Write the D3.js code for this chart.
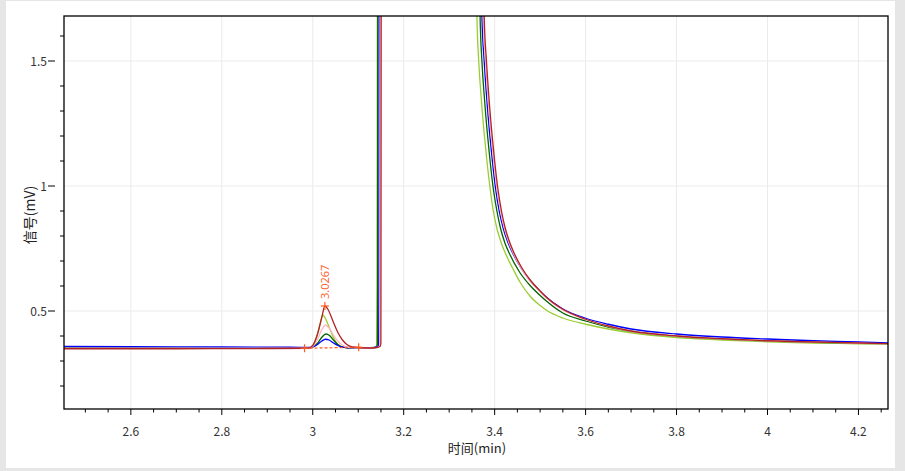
<!DOCTYPE html>
<html><head><meta charset="utf-8">
<script src="https://cdn.jsdelivr.net/npm/d3@7/dist/d3.min.js"></script>
<style>
html,body{margin:0;padding:0;background:#e6e6e6;}
svg{display:block;}
</style></head>
<body>
<svg id="c" width="905" height="471"></svg>
<script>
// ---- data (time in min, signal in mV) ----
const xDomain = [2.453, 4.265];
const yDomain = [0.108, 1.68];
const xMajorTicks = [2.6, 2.8, 3.0, 3.2, 3.4, 3.6, 3.8, 4.0, 4.2];
const xTickLabels = ["2.6", "2.8", "3", "3.2", "3.4", "3.6", "3.8", "4", "4.2"];
const xMinorTicks = [2.5,2.55,2.65,2.7,2.75,2.85,2.9,2.95,3.05,3.1,3.15,3.25,3.3,3.35,3.45,3.5,3.55,3.65,3.7,3.75,3.85,3.9,3.95,4.05,4.1,4.15,4.25];
const yMajorTicks = [0.5, 1.0, 1.5];
const yTickLabels = ["0.5", "1", "1.5"];
const yMinorTicks = [0.2,0.3,0.4,0.6,0.7,0.8,0.9,1.1,1.2,1.3,1.4,1.6];

const seriesYellowGreen = [[2.45,0.351],[2.7,0.351],[2.9,0.351],[2.99,0.351],[3.0,0.362],[3.01,0.405],[3.017,0.455],[3.022,0.484],[3.028,0.47],[3.035,0.44],[3.045,0.395],[3.055,0.367],[3.065,0.356],[3.08,0.352],[3.12,0.352],[3.133,0.353],[3.1395,0.358],[3.141,0.368],[3.1415,0.6],[3.142,1.8],[3.145,4],[3.25,12],[3.357,3],
  [3.361,1.68],[3.365,1.50],[3.371,1.34],[3.377,1.21],[3.383,1.10],[3.390,0.99],[3.397,0.90],[3.405,0.83],[3.415,0.77],[3.427,0.717],[3.44,0.67],[3.456,0.615],[3.479,0.557],[3.50,0.522],[3.515,0.502],[3.55,0.472],[3.6,0.447],[3.65,0.428],[3.7,0.413],[3.8,0.394],[3.9,0.384],[4.0,0.377],[4.1,0.372],[4.2,0.369],[4.27,0.367]];
const seriesDarkGreen = [[2.45,0.352],[2.7,0.352],[2.9,0.352],[2.99,0.352],[3.0,0.356],[3.01,0.37],[3.02,0.395],[3.029,0.408],[3.037,0.402],[3.045,0.385],[3.055,0.366],[3.065,0.356],[3.08,0.352],[3.12,0.352],[3.134,0.353],[3.1405,0.358],[3.142,0.368],[3.1425,0.6],[3.143,1.8],[3.146,4],[3.25,12],[3.364,3],
  [3.368,1.68],[3.372,1.50],[3.378,1.34],[3.384,1.21],[3.390,1.10],[3.397,0.99],[3.405,0.90],[3.413,0.83],[3.423,0.77],[3.433,0.728],[3.455,0.655],[3.479,0.600],[3.50,0.562],[3.515,0.538],[3.55,0.492],[3.6,0.460],[3.65,0.436],[3.7,0.419],[3.8,0.399],[3.9,0.388],[4.0,0.380],[4.1,0.375],[4.2,0.371],[4.27,0.369]];
const seriesBlue = [[2.45,0.358],[2.6,0.357],[2.8,0.356],[2.95,0.355],[2.995,0.354],[3.003,0.358],[3.012,0.368],[3.02,0.38],[3.028,0.387],[3.036,0.384],[3.045,0.373],[3.055,0.362],[3.068,0.355],[3.09,0.353],[3.12,0.353],[3.136,0.354],[3.1435,0.359],[3.145,0.37],[3.1455,0.6],[3.146,1.8],[3.149,4],[3.26,12],[3.368,3],
  [3.372,1.68],[3.377,1.50],[3.383,1.34],[3.389,1.21],[3.395,1.10],[3.402,0.99],[3.410,0.90],[3.419,0.83],[3.429,0.775],[3.438,0.738],[3.457,0.675],[3.476,0.626],[3.497,0.585],[3.512,0.558],[3.55,0.508],[3.6,0.471],[3.65,0.447],[3.7,0.428],[3.8,0.408],[3.9,0.396],[4.0,0.388],[4.1,0.381],[4.2,0.376],[4.27,0.372]];
const seriesPink = [[2.45,0.351],[2.7,0.351],[2.9,0.351],[2.99,0.351],[3.0,0.358],[3.01,0.385],[3.02,0.425],[3.028,0.444],[3.036,0.432],[3.045,0.405],[3.055,0.38],[3.065,0.364],[3.08,0.354],[3.12,0.352],[3.137,0.353],[3.1465,0.358],[3.1478,0.368],[3.148,0.6],[3.1485,1.8],[3.151,4],[3.26,12],[3.371,3],
  [3.375,1.68],[3.380,1.50],[3.386,1.34],[3.392,1.21],[3.398,1.10],[3.405,0.99],[3.413,0.90],[3.4215,0.83],[3.431,0.775],[3.440,0.735],[3.458,0.672],[3.477,0.622],[3.498,0.580],[3.513,0.553],[3.55,0.504],[3.6,0.466],[3.65,0.439],[3.7,0.419],[3.8,0.399],[3.9,0.388],[4.0,0.380],[4.1,0.375],[4.2,0.371],[4.27,0.368]];
const seriesRed = [[2.45,0.349],[2.7,0.349],[2.9,0.35],[2.99,0.351],[3.0,0.362],[3.01,0.405],[3.02,0.475],[3.0267,0.52],[3.033,0.508],[3.045,0.457],[3.055,0.415],[3.065,0.385],[3.075,0.366],[3.088,0.356],[3.12,0.352],[3.138,0.353],[3.148,0.358],[3.1498,0.37],[3.150,0.6],[3.1505,1.8],[3.153,4],[3.26,12],[3.373,3],
  [3.377,1.68],[3.382,1.50],[3.388,1.34],[3.394,1.21],[3.400,1.10],[3.407,0.99],[3.415,0.90],[3.4235,0.83],[3.433,0.775],[3.442,0.735],[3.46,0.672],[3.479,0.622],[3.50,0.580],[3.515,0.553],[3.552,0.505],[3.6,0.467],[3.65,0.440],[3.7,0.42],[3.8,0.40],[3.9,0.389],[4.0,0.381],[4.1,0.376],[4.2,0.372],[4.27,0.369]];

const peakStart = [2.982, 0.351];
const peakEnd = [3.101, 0.355];
const peakApex = [3.0267, 0.52];
const peakLabel = "3.0267";

const seriesList = [
  {name:"yellowgreen", data: seriesYellowGreen, color:"#9acd32"},
  {name:"darkgreen", data: seriesDarkGreen, color:"#006400"},
  {name:"blue", data: seriesBlue, color:"#0000ff"},
  {name:"pink", data: seriesPink, color:"#ffb6c1"},
  {name:"red", data: seriesRed, color:"#b22222"}
];

// ---- layout ----
const svg = d3.select("#c");
const L = 64, R = 888, T = 16, B = 409;
svg.append("rect").attr("x",6).attr("y",1).attr("width",889).attr("height",467).attr("fill","#fff");

const x = d3.scaleLinear().domain(xDomain).range([L, R]);
const y = d3.scaleLinear().domain(yDomain).range([B, T]);

// grid
const g = svg.append("g");
g.selectAll("line.gx").data(xMajorTicks).join("line")
  .attr("class","gx")
  .attr("x1", d => x(d)).attr("x2", d => x(d)).attr("y1", T).attr("y2", B)
  .attr("stroke", "#ebebeb").attr("stroke-width", 1);
g.selectAll("line.gy").data(yMajorTicks).join("line")
  .attr("class","gy")
  .attr("x1", L).attr("x2", R).attr("y1", d => y(d)).attr("y2", d => y(d))
  .attr("stroke", "#ebebeb").attr("stroke-width", 1);

// clip
svg.append("clipPath").attr("id","clip").append("rect")
  .attr("x", L).attr("y", T).attr("width", R - L).attr("height", B - T);

const line = d3.line().x(d => x(d[0])).y(d => y(d[1])).curve(d3.curveMonotoneX);
const plot = svg.append("g").attr("clip-path","url(#clip)");
plot.selectAll("path.s").data(seriesList).join("path")
  .attr("class","s")
  .attr("d", d => line(d.data))
  .attr("fill","none")
  .attr("stroke", d => d.color)
  .attr("stroke-width", 1.3);

// peak annotation
const mark = "#ff5a1f";
plot.append("line")
  .attr("x1", x(peakStart[0])).attr("y1", y(peakStart[1]))
  .attr("x2", x(peakEnd[0])).attr("y2", y(peakEnd[1]))
  .attr("stroke", mark).attr("stroke-width", 1.2).attr("stroke-dasharray","3,2");
const crosses = [peakStart, peakEnd, peakApex];
crosses.forEach(p => {
  const cx = x(p[0]), cy = y(p[1]);
  plot.append("line").attr("x1",cx-4).attr("x2",cx+4).attr("y1",cy).attr("y2",cy).attr("stroke",mark).attr("stroke-width",1.2);
  plot.append("line").attr("x1",cx).attr("x2",cx).attr("y1",cy-4).attr("y2",cy+4).attr("stroke",mark).attr("stroke-width",1.2);
});
svg.append("text")
  .attr("transform", `translate(${x(peakApex[0]) + 4},${y(peakApex[1]) - 7}) rotate(-90)`)
  .attr("font-family","'Open Sans', 'DejaVu Sans', sans-serif")
  .attr("font-size", 11).attr("fill", mark)
  .text(peakLabel);

// frame
svg.append("rect").attr("x", L).attr("y", T).attr("width", R - L).attr("height", B - T)
  .attr("fill","none").attr("stroke","#000").attr("stroke-width",1.3);

// x axis ticks
const font = "'Noto Sans CJK SC', 'Noto Sans', sans-serif";
svg.selectAll("line.xmaj").data(xMajorTicks).join("line").attr("class","xmaj")
  .attr("x1", d => x(d)).attr("x2", d => x(d)).attr("y1", B).attr("y2", B + 6)
  .attr("stroke","#000").attr("stroke-width",1);
svg.selectAll("line.xmin").data(xMinorTicks).join("line").attr("class","xmin")
  .attr("x1", d => x(d)).attr("x2", d => x(d)).attr("y1", B).attr("y2", B + 3.5)
  .attr("stroke","#000").attr("stroke-width",1);
svg.selectAll("text.xl").data(xMajorTicks).join("text").attr("class","xl")
  .attr("x", d => x(d)).attr("y", 436)
  .attr("text-anchor","middle").attr("font-family",font).attr("font-size",12).attr("fill","#333")
  .text((d,i) => xTickLabels[i]);

// y axis ticks
svg.selectAll("line.ymin").data(yMinorTicks).join("line").attr("class","ymin")
  .attr("x1", L - 4).attr("x2", L).attr("y1", d => y(d)).attr("y2", d => y(d))
  .attr("stroke","#000").attr("stroke-width",1);
svg.selectAll("line.ymaj").data(yMajorTicks).join("line").attr("class","ymaj")
  .attr("x1", L - 16).attr("x2", L - 9).attr("y1", d => y(d)).attr("y2", d => y(d))
  .attr("stroke","#000").attr("stroke-width",1);
svg.selectAll("text.yl").data(yMajorTicks).join("text").attr("class","yl")
  .attr("x", 47).attr("y", d => y(d) + 4.5)
  .attr("text-anchor","end").attr("font-family",font).attr("font-size",12).attr("fill","#333")
  .text((d,i) => yTickLabels[i]);

// axis titles
svg.append("text").attr("x", 477).attr("y", 453)
  .attr("text-anchor","middle").attr("font-family",font).attr("font-size",13).attr("fill","#222")
  .text("时间(min)");
svg.append("text").attr("transform","translate(35,215) rotate(-90)")
  .attr("text-anchor","middle").attr("font-family",font).attr("font-size",14).attr("fill","#222")
  .text("信号(mV)");
</script>
</body></html>
